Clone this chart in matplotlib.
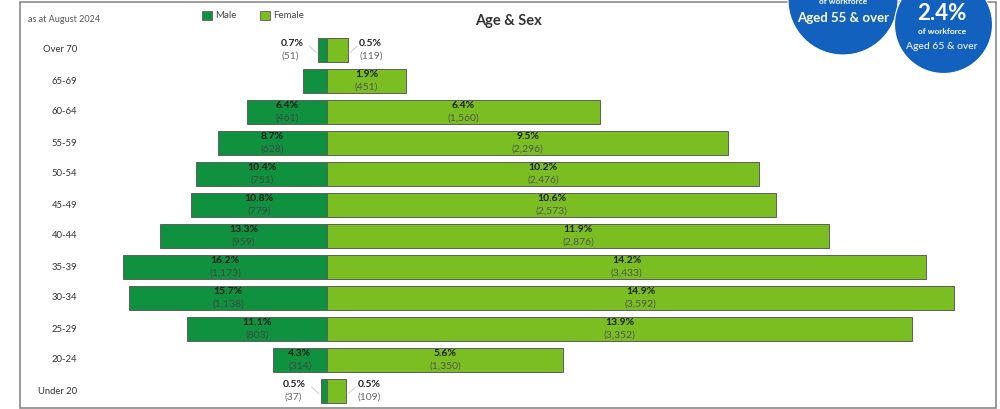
import matplotlib
matplotlib.use("Agg")
import matplotlib.pyplot as plt
from matplotlib.patches import Circle, Rectangle

plt.rcParams['font.family'] = ['Lato', 'DejaVu Sans']

# ---- data ----
age_groups = ["Over 70", "65-69", "60-64", "55-59", "50-54", "45-49",
              "40-44", "35-39", "30-34", "25-29", "20-24", "Under 20"]
male_counts = [51, 137, 461, 628, 751, 779, 959, 1173, 1138, 803, 314, 37]
male_pct = [0.7, None, 6.4, 8.7, 10.4, 10.8, 13.3, 16.2, 15.7, 11.1, 4.3, 0.5]
female_counts = [119, 451, 1560, 2296, 2476, 2573, 2876, 3433, 3592, 3352, 1350, 109]
female_pct = [0.5, 1.9, 6.4, 9.5, 10.2, 10.6, 11.9, 14.2, 14.9, 13.9, 5.6, 0.5]
outside_rows = ["Over 70", "Under 20"]
circle_values = [None, "2.4%"]
circle_captions = ["Aged 55 & over", "Aged 65 & over"]

MALE_C = "#0F9140"
FEMALE_C = "#7ABE22"
EDGE = "#5f5f5f"

W, H = 1000, 409
fig = plt.figure(figsize=(W / 100, H / 100), dpi=100)

# ---- bars axes ----
px_per = 0.1745
cx = 327.3
row0, rowstep = 50.0, 31.0
ax = fig.add_axes([0, 0, 1, 1])
ax.set_xlim(-cx / px_per, (W - cx) / px_per)
ax.set_ylim((H - row0) / rowstep, -row0 / rowstep)
ax.axis("off")

ys = list(range(len(age_groups)))
ax.barh(ys, [-m for m in male_counts], height=0.77, color=MALE_C,
        edgecolor=EDGE, linewidth=0.7)
ax.barh(ys, female_counts, height=0.77, color=FEMALE_C,
        edgecolor=EDGE, linewidth=0.7)

fs = 7.5
for i, g in enumerate(age_groups):
    ax.text((77 - cx) / px_per, i, g, ha="right", va="center",
            fontsize=6.8, color="#333333")
    for side, cnt, pct in ((-1, male_counts[i], male_pct[i]),
                           (1, female_counts[i], female_pct[i])):
        if pct is None:
            continue
        ptxt = f"{pct:.1f}%"
        ctxt = f"({cnt:,})"
        if g in outside_rows:
            if side < 0:
                xl = -cnt - 15 / px_per
                ha = "right"
                xc = xl - 4 / px_per
            else:
                xl = cnt + 11 / px_per
                ha = "left"
                xc = xl
            ax.text(xl, i - 0.2, ptxt, ha=ha, va="center", fontsize=fs,
                    fontweight="bold", color="#222222")
            ax.text(xc, i + 0.2, ctxt, ha=ha, va="center", fontsize=fs,
                    color="#666666")
            ax.plot([side * cnt + side * 2 / px_per, side * cnt + side * 9 / px_per],
                    [i + 0.08, i - 0.12], color="#cccccc", lw=0.7)
        else:
            xl = side * cnt / 2
            ccol = "#3d4a40" if side < 0 else "#555555"
            ax.text(xl, i - 0.2, ptxt, ha="center", va="center", fontsize=fs,
                    fontweight="bold", color="#1e1e1e")
            ax.text(xl, i + 0.2, ctxt, ha="center", va="center", fontsize=fs,
                    color=ccol)

# ---- overlay (pixel coordinates) ----
ov = fig.add_axes([0, 0, 1, 1], zorder=5)
ov.set_xlim(0, W)
ov.set_ylim(H, 0)
ov.axis("off")
ov.patch.set_alpha(0)

ov.add_patch(Rectangle((20, 1.5), 976, 406.5, fill=False, edgecolor="#8a8a8a", lw=1.2))
ov.text(28, 20, "as at August 2024", fontsize=6.5, color="#555555", va="center")

ov.add_patch(Rectangle((202, 10.5), 9.5, 9, facecolor=MALE_C, edgecolor=EDGE, lw=0.6))
ov.text(215, 15, "Male", fontsize=7, color="#444444", va="center")
ov.add_patch(Rectangle((260, 10.5), 9.5, 9, facecolor=FEMALE_C, edgecolor=EDGE, lw=0.6))
ov.text(273, 15, "Female", fontsize=7, color="#444444", va="center")

ov.text(508, 20.5, "Age & Sex", fontsize=10.5, fontweight="bold", color="#333333",
        ha="center", va="center")

BLUE = "#1261BE"
ov.add_patch(Circle((843, 0), 55, facecolor=BLUE, edgecolor="white", lw=0.8))
ov.text(843, 2, "of workforce", fontsize=6, color="white", ha="center", va="center",
        fontweight="bold")
ov.text(843, 18, circle_captions[0], fontsize=9.5, color="white", ha="center",
        va="center", fontweight="bold")

ov.add_patch(Circle((943.5, 24.5), 49, facecolor=BLUE, edgecolor="white", lw=0.8))
ov.text(942, 13, circle_values[1], fontsize=16, color="white", ha="center",
        va="center", fontweight="bold")
ov.text(942, 32, "of workforce", fontsize=6, color="white", ha="center", va="center",
        fontweight="bold")
ov.text(942, 46.5, circle_captions[1], fontsize=7.5, color="white", ha="center",
        va="center")

fig.savefig("out.png", dpi=100)
